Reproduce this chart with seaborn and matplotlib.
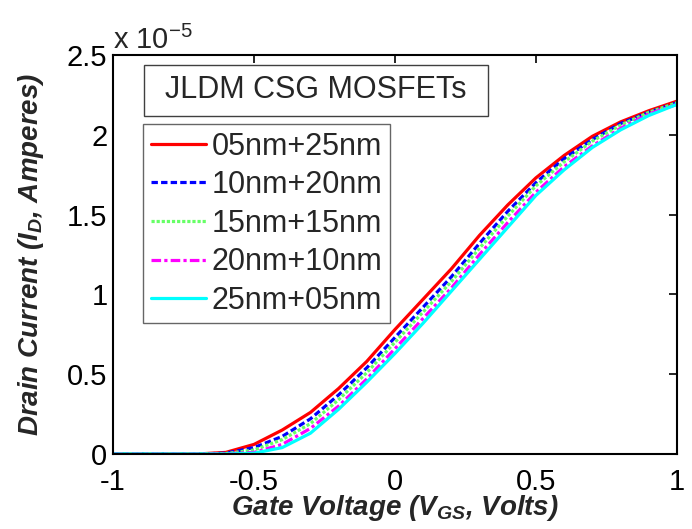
import numpy as np
import pandas as pd
import matplotlib
matplotlib.use("Agg")
import matplotlib.pyplot as plt
from matplotlib.patches import Rectangle
import seaborn as sns

vgs = [-1.0, -0.9, -0.8, -0.7, -0.6, -0.5, -0.4, -0.3, -0.2, -0.1, 0.0,
       0.1, 0.2, 0.3, 0.4, 0.5, 0.6, 0.7, 0.8, 0.9, 1.0]
# Drain current in units of 1e-5 A
id_05_25 = [0, 0, 0, 0, 0.010, 0.060, 0.150, 0.260, 0.410, 0.580, 0.780,
            0.970, 1.160, 1.370, 1.560, 1.730, 1.870, 1.990, 2.080, 2.150, 2.210]
id_10_20 = [0, 0, 0, 0, 0.005, 0.040, 0.110, 0.220, 0.370, 0.540, 0.730,
            0.920, 1.110, 1.320, 1.520, 1.700, 1.850, 1.970, 2.070, 2.140, 2.200]
id_15_15 = [0, 0, 0, 0, 0.003, 0.025, 0.090, 0.190, 0.340, 0.510, 0.700,
            0.890, 1.080, 1.290, 1.490, 1.680, 1.830, 1.960, 2.060, 2.140, 2.200]
id_20_10 = [0, 0, 0, 0, 0.001, 0.010, 0.060, 0.160, 0.300, 0.470, 0.660,
            0.850, 1.040, 1.250, 1.450, 1.640, 1.800, 1.930, 2.040, 2.130, 2.190]
id_25_05 = [0, 0, 0, 0, 0.000, 0.005, 0.040, 0.130, 0.280, 0.450, 0.630,
            0.820, 1.020, 1.220, 1.420, 1.620, 1.780, 1.920, 2.030, 2.120, 2.190]

labels = ["05nm+25nm", "10nm+20nm", "15nm+15nm", "20nm+10nm", "25nm+05nm"]
series = [id_05_25, id_10_20, id_15_15, id_20_10, id_25_05]
colors = ["#ff0000", "#0000ff", "#66ff66", "#ff00ff", "#00ffff"]
styles = ["-", (0, (2, 1)), (0, (1, 0.6)), (0, (3, 1, 1, 1)), "-"]

xticks = [-1, -0.5, 0, 0.5, 1]
yticks = [0, 0.5, 1, 1.5, 2, 2.5]

sns.set_theme(style="white")
plt.rcParams["font.family"] = ["Liberation Sans", "DejaVu Sans"]
plt.rcParams["mathtext.fontset"] = "custom"
plt.rcParams["mathtext.rm"] = "Liberation Sans:bold:italic"
plt.rcParams["mathtext.it"] = "Liberation Sans:bold:italic"
plt.rcParams["mathtext.default"] = "regular"

fig = plt.figure(figsize=(6.92, 5.29), dpi=100)
ax = fig.add_axes([0.1633, 0.1418, 0.815, 0.7545])

for lab, ys, c, ls in zip(labels, series, colors, styles):
    df = pd.DataFrame({"x": vgs, "y": ys})
    sns.lineplot(data=df, x="x", y="y", ax=ax, color=c, linestyle=ls,
                 linewidth=2.3, label=lab)

ax.set_xlim(-1, 1)
ax.set_ylim(0, 2.5)
ax.set_xticks(xticks)
ax.set_yticks(yticks)
ax.set_xticklabels([f"{t:g}" for t in xticks])
ax.set_yticklabels([f"{t:g}" for t in yticks])
ax.tick_params(direction="in", length=6, width=1.2, top=True, right=True,
               labelsize=21, colors="black", pad=4)
ax.tick_params(axis="x", pad=10)
for s in ax.spines.values():
    s.set_color("black")
    s.set_linewidth(1.5)

ax.set_xlabel("Gate Voltage (V$_{GS}$, Volts)", fontsize=20, fontweight="bold",
              fontstyle="italic", labelpad=-2)
ax.set_ylabel("Drain Current (I$_{D}$, Amperes)", fontsize=20, fontweight="bold",
              fontstyle="italic", labelpad=15)

ax.text(0.0, 1.0, "x 10$^{\\mathregular{-5}}$", transform=ax.transAxes,
        fontsize=21, ha="left", va="bottom",
        math_fontfamily="dejavusans")

leg = ax.legend(loc="upper left", bbox_to_anchor=(0.053, 0.827),
                borderaxespad=0, fontsize=22, frameon=True, fancybox=False,
                handlelength=1.8, handletextpad=0.2, labelspacing=0.28,
                borderpad=0.25)
leg.get_frame().set_edgecolor("#404040")
leg.get_frame().set_linewidth(1.0)

ax.add_patch(Rectangle((0.055, 0.847), 0.61, 0.128, transform=ax.transAxes,
                       facecolor="white", edgecolor="#404040", linewidth=1.0,
                       zorder=5))
ax.text(0.36, 0.911, "JLDM CSG MOSFETs", transform=ax.transAxes, fontsize=22,
        ha="center", va="center", zorder=6)

fig.savefig("out.png", dpi=100)
